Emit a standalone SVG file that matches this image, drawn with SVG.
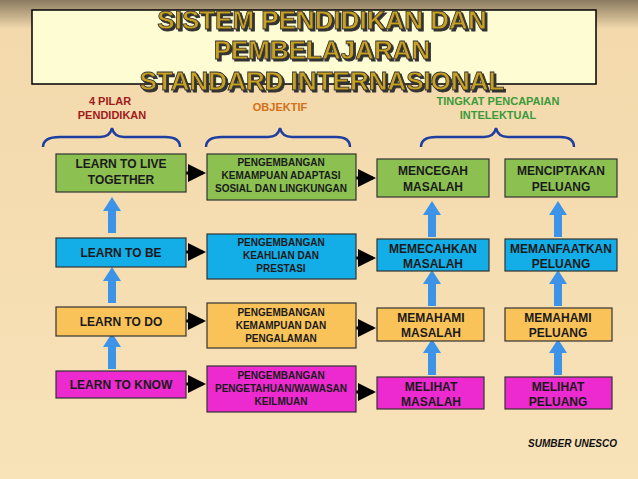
<svg xmlns="http://www.w3.org/2000/svg" width="638" height="479" viewBox="0 0 638 479">
<defs>
<linearGradient id="bg" x1="0" y1="0" x2="0" y2="1">
<stop offset="0" stop-color="#8a7a60"/><stop offset="0.06" stop-color="#f3d9ac"/><stop offset="1" stop-color="#f8e2b8"/>
</linearGradient>
<filter id="sh" x="-5%" y="-20%" width="110%" height="150%"><feDropShadow dx="2" dy="2" stdDeviation="0.3" flood-color="#333"/></filter>
<marker id="ah" markerWidth="6" markerHeight="6" refX="5" refY="3" orient="auto" markerUnits="strokeWidth"><path d="M0,0L6,3L0,6z" fill="#000"/></marker>
<path id="up" d="M-4,0V-22H-9L0,-36L9,-22H4V0z"/>
</defs>
<style>
.b{stroke:#333;stroke-width:1.2}
.t{font-family:"Liberation Sans",Arial,sans-serif;font-weight:bold;font-size:12px;fill:#1a1a1a;text-anchor:middle}
.s{font-size:10px}
.h{font-family:"Liberation Sans",Arial,sans-serif;font-weight:bold;font-size:11px;text-anchor:middle}
.c{fill:none;stroke:#000;stroke-width:3;marker-end:url(#ah)}
.u{fill:#3d93e8}
.br{fill:none;stroke:#1e3fa0;stroke-width:2.5}
.g{fill:#8cc152}.bl{fill:#13aee8}.o{fill:#fac35a}.m{fill:#ec2ad0}
</style>
<rect width="638" height="479" fill="url(#bg)"/>
<g id="title">
<rect x="32" y="10" width="564" height="74" fill="#fefcd3" stroke="#000" stroke-width="1.5"/>
<g font-family="Liberation Sans,Arial,sans-serif" font-weight="bold" font-size="26" text-anchor="middle" stroke="#333" stroke-width="0.8" fill="#c8a020" filter="url(#sh)">
<text x="322" y="29">SISTEM PENDIDIKAN DAN</text>
<text x="322" y="59">PEMBELAJARAN</text>
<text x="322" y="90">STANDARD INTERNASIONAL</text>
</g>
</g>
<g id="headers">
<text class="h" x="110" y="105" fill="#a01a1a">4 PILAR</text>
<text class="h" x="112" y="119" fill="#a01a1a">PENDIDIKAN</text>
<text class="h" x="280" y="111" fill="#d07018">OBJEKTIF</text>
<text class="h" x="498" y="105" fill="#3a9a3a">TINGKAT PENCAPAIAN</text>
<text class="h" x="498" y="119" fill="#3a9a3a">INTELEKTUAL</text>
<path class="br" d="M43,147Q43,137 60,137H100Q110,137 112,128Q114,137 124,137H165Q180,137 180,147"/>
<path class="br" d="M206,147Q206,137 222,137H268Q278,137 280,128Q282,137 292,137H336Q350,137 350,147"/>
<path class="br" d="M421,147Q421,137 436,137H484Q494,137 496,128Q498,137 508,137H560Q574,137 574,147"/>
</g>
<g id="connectors">
<path class="c" d="M186,173H203"/><path class="c" d="M186,252H203"/><path class="c" d="M186,321H203"/><path class="c" d="M186,384H203"/>
<path class="c" d="M356,178H373"/><path class="c" d="M356,258H373"/><path class="c" d="M356,328H373"/><path class="c" d="M356,392H373"/>
<use href="#up" class="u" x="112" y="233"/><use href="#up" class="u" x="112" y="303"/><use href="#up" class="u" x="112" y="369"/>
<use href="#up" class="u" x="432" y="237"/><use href="#up" class="u" x="432" y="306"/><use href="#up" class="u" x="432" y="375"/>
<use href="#up" class="u" x="558" y="237"/><use href="#up" class="u" x="558" y="306"/><use href="#up" class="u" x="558" y="375"/>
</g>
<g id="n1"><rect class="b g" x="56" y="154" width="130" height="38"/><text class="t" x="121" y="168">LEARN TO LIVE</text><text class="t" x="121" y="184">TOGETHER</text></g>
<g id="n2"><rect class="b bl" x="56" y="238" width="130" height="29"/><text class="t" x="121" y="257">LEARN TO BE</text></g>
<g id="n3"><rect class="b o" x="56" y="307" width="130" height="29"/><text class="t" x="121" y="326">LEARN TO DO</text></g>
<g id="n4"><rect class="b m" x="56" y="371" width="130" height="27"/><text class="t" x="121" y="389">LEARN TO KNOW</text></g>
<g id="o1"><rect class="b g" x="207" y="154" width="149" height="46"/><text class="t s" x="281" y="166">PENGEMBANGAN</text><text class="t s" x="281" y="179">KEMAMPUAN ADAPTASI</text><text class="t s" x="281" y="192">SOSIAL DAN LINGKUNGAN</text></g>
<g id="o2"><rect class="b bl" x="207" y="234" width="149" height="45"/><text class="t s" x="281" y="246">PENGEMBANGAN</text><text class="t s" x="281" y="259">KEAHLIAN DAN</text><text class="t s" x="281" y="272">PRESTASI</text></g>
<g id="o3"><rect class="b o" x="207" y="303" width="149" height="45"/><text class="t s" x="281" y="316">PENGEMBANGAN</text><text class="t s" x="281" y="329">KEMAMPUAN DAN</text><text class="t s" x="281" y="342">PENGALAMAN</text></g>
<g id="o4"><rect class="b m" x="207" y="366" width="149" height="46"/><text class="t s" x="281" y="379">PENGEMBANGAN</text><text class="t s" x="281" y="392">PENGETAHUAN/WAWASAN</text><text class="t s" x="281" y="405">KEILMUAN</text></g>
<g id="r1"><rect class="b g" x="377" y="159" width="112" height="38"/><text class="t" x="433" y="175">MENCEGAH</text><text class="t" x="433" y="191">MASALAH</text></g>
<g id="r2"><rect class="b bl" x="377" y="239" width="112" height="32"/><text class="t" x="433" y="253">MEMECAHKAN</text><text class="t" x="433" y="268">MASALAH</text></g>
<g id="r3"><rect class="b o" x="377" y="308" width="107" height="33"/><text class="t" x="431" y="322">MEMAHAMI</text><text class="t" x="431" y="337">MASALAH</text></g>
<g id="r4"><rect class="b m" x="377" y="377" width="107" height="32"/><text class="t" x="431" y="391">MELIHAT</text><text class="t" x="431" y="406">MASALAH</text></g>
<g id="p1"><rect class="b g" x="505" y="159" width="112" height="38"/><text class="t" x="561" y="175">MENCIPTAKAN</text><text class="t" x="561" y="191">PELUANG</text></g>
<g id="p2"><rect class="b bl" x="505" y="239" width="112" height="32"/><text class="t" x="561" y="253">MEMANFAATKAN</text><text class="t" x="561" y="268">PELUANG</text></g>
<g id="p3"><rect class="b o" x="505" y="308" width="107" height="33"/><text class="t" x="558" y="322">MEMAHAMI</text><text class="t" x="558" y="337">PELUANG</text></g>
<g id="p4"><rect class="b m" x="505" y="377" width="107" height="32"/><text class="t" x="558" y="391">MELIHAT</text><text class="t" x="558" y="406">PELUANG</text></g>
<text x="617" y="447" font-family="Liberation Sans,Arial,sans-serif" font-weight="bold" font-style="italic" font-size="10" text-anchor="end" fill="#111">SUMBER UNESCO</text>
</svg>
